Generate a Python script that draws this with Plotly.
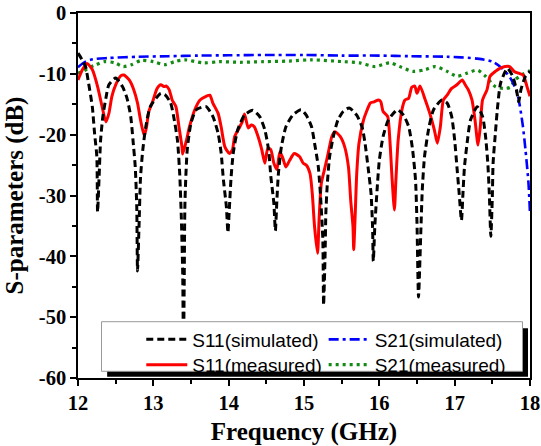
import plotly.graph_objects as go

# ---------------- data ----------------
s11_sim_f = [12.00, 12.05, 12.10, 12.14, 12.19, 12.22, 12.25, 12.26, 12.28, 12.30, 12.33, 12.37, 12.41, 12.50,
             12.59, 12.65, 12.70, 12.73, 12.76, 12.78, 12.79, 12.81, 12.83, 12.86, 12.90, 12.96, 13.10,
             13.16, 13.23, 13.27, 13.32, 13.35, 13.37, 13.39, 13.40, 13.41, 13.42, 13.45, 13.50, 13.57, 13.70,
             13.79, 13.86, 13.90, 13.93, 13.97, 13.99, 14.01, 14.03, 14.06, 14.12, 14.21, 14.32,
             14.41, 14.48, 14.53, 14.56, 14.60, 14.62, 14.64, 14.66, 14.70, 14.76, 14.85, 14.96,
             15.03, 15.10, 15.14, 15.19, 15.22, 15.25, 15.26, 15.28, 15.29, 15.31, 15.34, 15.39, 15.45, 15.52, 15.60,
             15.70, 15.77, 15.81, 15.85, 15.89, 15.91, 15.92, 15.94, 15.97, 16.00, 16.05, 16.12, 16.24,
             16.32, 16.39, 16.44, 16.48, 16.50, 16.52, 16.55, 16.57, 16.60, 16.66, 16.72, 16.83,
             16.90, 16.96, 17.00, 17.03, 17.06, 17.09, 17.11, 17.13, 17.17, 17.21, 17.30,
             17.37, 17.41, 17.44, 17.46, 17.48, 17.50, 17.51, 17.54, 17.57, 17.61, 17.70,
             17.77, 17.82, 17.85, 17.88, 17.94, 18.00]
s11_sim_db = [-6.6, -7.6, -8.8, -11.5, -15.4, -19.8, -23.6, -32.7, -27.0, -20.9, -17.0, -14.0, -11.8, -10.7,
              -12.1, -14.0, -17.0, -20.9, -25.3, -31.9, -42.4, -35.0, -27.0, -22.5, -18.7, -15.4, -13.2,
              -13.5, -14.8, -17.0, -20.9, -26.4, -33.0, -42.8, -56.0, -44.0, -31.0, -22.5, -18.1, -15.9, -15.4,
              -17.0, -19.8, -23.0, -27.4, -31.9, -36.1, -31.9, -27.4, -23.1, -19.2, -16.8, -16.0,
              -17.0, -19.2, -22.5, -26.9, -31.3, -35.8, -30.8, -26.4, -22.0, -18.7, -16.8, -15.9,
              -16.8, -18.7, -21.4, -25.3, -30.2, -37.3, -48.0, -39.6, -32.9, -28.0, -23.6, -20.3, -17.6, -16.2, -15.6,
              -16.8, -18.7, -21.4, -25.3, -29.7, -35.1, -40.8, -35.1, -29.1, -24.2, -20.3, -17.6, -15.9,
              -16.8, -18.7, -22.3, -27.4, -34.6, -46.7, -36.2, -29.1, -23.6, -18.7, -15.9, -14.3,
              -14.8, -17.0, -20.9, -25.3, -29.7, -34.1, -29.7, -25.3, -20.9, -17.6, -15.4,
              -17.0, -20.3, -24.7, -29.7, -36.7, -30.2, -24.7, -19.8, -15.4, -11.5, -9.1,
              -10.4, -12.6, -14.6, -12.6, -10.4, -9.6]

s11_meas_f = [12.00, 12.06, 12.12, 12.19, 12.26, 12.32, 12.37, 12.41, 12.45, 12.50, 12.57, 12.61, 12.68, 12.74,
              12.79, 12.83, 12.88, 12.91, 12.94, 12.99, 13.05, 13.10, 13.14, 13.17, 13.21, 13.25, 13.30, 13.34,
              13.38, 13.39, 13.44, 13.48, 13.55, 13.62, 13.70, 13.75, 13.79, 13.86, 13.90, 13.95, 14.01, 14.05,
              14.08, 14.14, 14.18, 14.21, 14.26, 14.30, 14.34, 14.39, 14.44, 14.48, 14.52, 14.56, 14.60, 14.64,
              14.68, 14.72, 14.76, 14.81, 14.87, 14.94, 14.99, 15.03, 15.08, 15.11, 15.14, 15.18, 15.20, 15.23,
              15.28, 15.32, 15.37, 15.41, 15.48, 15.54, 15.59, 15.62, 15.65, 15.66, 15.68, 15.70, 15.73, 15.79,
              15.83, 15.88, 15.93, 15.99, 16.02, 16.05, 16.11, 16.14, 16.17, 16.20, 16.22, 16.25, 16.30, 16.34,
              16.39, 16.43, 16.47, 16.50, 16.54, 16.61, 16.67, 16.73, 16.77, 16.81, 16.85, 16.90, 16.96, 17.03,
              17.10, 17.14, 17.18, 17.23, 17.27, 17.31, 17.34, 17.37, 17.43, 17.47, 17.54, 17.60, 17.67, 17.73,
              17.79, 17.85, 17.91, 17.96, 18.00]
s11_meas_db = [-11.0, -9.3, -8.3, -9.3, -12.1, -15.4, -17.9, -16.5, -13.7, -11.8, -10.3, -10.2, -11.0, -12.6,
               -14.8, -17.6, -20.2, -18.7, -16.2, -14.6, -12.4, -11.8, -12.1, -12.0, -12.6, -14.3, -15.4, -18.7,
               -22.0, -23.2, -20.9, -18.7, -15.9, -14.3, -13.7, -13.5, -14.8, -16.5, -18.7, -22.0, -23.1, -22.5,
               -20.3, -18.9, -17.9, -16.6, -18.9, -18.4, -18.7, -20.3, -22.5, -24.7, -22.2, -22.5, -24.7, -25.7,
               -22.8, -23.9, -25.3, -24.2, -23.1, -23.6, -24.7, -25.0, -26.4, -29.7, -35.1, -39.5, -34.0, -28.0,
               -25.3, -23.1, -20.3, -19.5, -20.3, -22.0, -25.3, -30.8, -35.1, -38.9, -33.0, -26.4, -21.4, -17.6,
               -16.2, -14.8, -14.6, -14.3, -14.6, -16.2, -17.0, -20.9, -27.4, -32.4, -27.4, -20.9, -15.9, -14.3,
               -14.0, -12.2, -12.0, -13.2, -12.0, -14.3, -16.5, -19.2, -21.4, -18.7, -14.3, -13.5, -12.4, -11.8,
               -11.0, -11.8, -12.6, -14.3, -17.6, -21.7, -18.7, -14.3, -12.6, -10.4, -9.6, -9.1, -8.8, -8.8,
               -9.6, -9.9, -10.2, -12.1, -13.7]

s21_sim_f = [12.00, 12.10, 12.20, 12.40, 12.80, 13.20, 13.60, 14.00, 14.50, 15.00, 15.50, 16.00, 16.40,
             16.90, 17.30, 17.50, 17.63, 17.74, 17.83, 17.90, 17.94, 17.98, 18.00]
s21_sim_db = [-8.9, -8.0, -7.6, -7.4, -7.2, -7.1, -7.0, -6.95, -6.9, -6.9, -7.0, -7.0, -7.1,
              -7.2, -7.5, -8.0, -9.1, -10.7, -13.2, -18.1, -22.5, -28.0, -33.0]

s21_meas_f = [12.00, 12.07, 12.13, 12.24, 12.35, 12.49, 12.60, 12.71, 12.84, 13.00, 13.15, 13.28, 13.42,
              13.66, 13.88, 14.15, 14.46, 14.81, 15.10, 15.52, 15.74, 15.94, 16.14, 16.27, 16.45, 16.61,
              16.74, 16.90, 17.03, 17.16, 17.30, 17.41, 17.54, 17.65, 17.74, 17.80, 17.89, 17.98, 18.00]
s21_meas_db = [-9.9, -9.6, -9.1, -8.5, -8.0, -8.2, -8.8, -8.5, -7.8, -8.0, -8.5, -8.0, -7.7,
               -8.2, -8.0, -8.1, -8.0, -7.9, -7.7, -8.0, -8.2, -8.8, -8.2, -8.8, -9.6, -9.3,
               -8.8, -9.6, -10.4, -9.9, -9.4, -10.4, -12.1, -12.4, -12.2, -11.0, -10.2, -9.6, -9.5]

x_ticks = [12, 13, 14, 15, 16, 17, 18]
x_tick_text = ["12", "13", "14", "15", "16", "17", "18"]
y_ticks = [-60, -50, -40, -30, -20, -10, 0]
y_tick_text = ["-60", "-50", "-40", "-30", "-20", "-10", "0"]

# ---------------- figure ----------------
SERIF = "Liberation Serif, Times New Roman, serif"
SANS = "Liberation Sans, Arial, sans-serif"

fig = go.Figure()
fig.add_trace(go.Scatter(x=s21_meas_f, y=s21_meas_db, name="S21(measured)", mode="lines",
                         line=dict(color="#138a13", width=3.2, dash="3px,4px", shape="spline", smoothing=0.8),
                         legend="legend4"))
fig.add_trace(go.Scatter(x=s21_sim_f, y=s21_sim_db, name="S21(simulated)", mode="lines",
                         line=dict(color="#0000ff", width=2.6, dash="10px,4px,3px,4px", shape="spline", smoothing=0.8),
                         legend="legend2"))
fig.add_trace(go.Scatter(x=s11_meas_f, y=s11_meas_db, name="S11(measured)", mode="lines",
                         line=dict(color="#ff0000", width=3, shape="spline", smoothing=0.6),
                         legend="legend3"))
fig.add_trace(go.Scatter(x=s11_sim_f, y=s11_sim_db, name="S11(simulated)", mode="lines",
                         line=dict(color="#000000", width=3, dash="7px,4px", shape="spline", smoothing=0.6),
                         legend="legend"))

# legend frame with drop shadow
fig.add_shape(type="rect", xref="paper", yref="paper", x0=0.0645, x1=0.9956, y0=0.0036, y1=0.1364,
              fillcolor="black", line=dict(width=0), layer="above")
fig.add_shape(type="rect", xref="paper", yref="paper", x0=0.052, x1=0.9834, y0=0.0184, y1=0.1542,
              fillcolor="white", line=dict(color="#9a9a9a", width=1), layer="above")

leg_common = dict(bgcolor="rgba(0,0,0,0)", borderwidth=0, orientation="v",
                  font=dict(family=SANS, size=19, color="black"),
                  itemwidth=41, xanchor="left", yanchor="top")
col1_x, col2_x = 0.140, 0.5435
row1_y, row2_y = 0.1575, 0.0882
fig.update_layout(
    width=541, height=446,
    margin=dict(l=78, r=11, t=13, b=68, autoexpand=False),
    paper_bgcolor="white", plot_bgcolor="white",
    showlegend=True,
    legend=dict(x=col1_x, y=row1_y, **leg_common),
    legend2=dict(x=col2_x, y=row1_y, **leg_common),
    legend3=dict(x=col1_x, y=row2_y, **leg_common),
    legend4=dict(x=col2_x, y=row2_y, **leg_common),
    xaxis=dict(range=[12, 18], tickvals=x_ticks, ticktext=x_tick_text, automargin=False,
               showline=True, linecolor="black", linewidth=1.5, mirror=True,
               ticks="outside", ticklen=6, tickwidth=1.5, tickcolor="black",
               minor=dict(dtick=0.5, ticks="outside", ticklen=4, tickwidth=1.5, tickcolor="black"),
               showgrid=False, zeroline=False,
               tickfont=dict(family=SERIF, size=20.5, color="black", weight="bold"),
               title=dict(text="Frequency (GHz)", font=dict(family=SERIF, size=25, color="black", weight="bold"),
                          standoff=9)),
    yaxis=dict(range=[-60, 0], tickvals=y_ticks, ticktext=y_tick_text, automargin=False,
               showline=True, linecolor="black", linewidth=1.5, mirror=True,
               ticks="outside", ticklen=6, tickwidth=1.5, tickcolor="black",
               minor=dict(dtick=5, ticks="outside", ticklen=4, tickwidth=1.5, tickcolor="black"),
               showgrid=False, zeroline=False,
               tickfont=dict(family=SERIF, size=20.5, color="black", weight="bold"),
               title=dict(text="S-parameters (dB)", font=dict(family=SERIF, size=25, color="black", weight="bold"),
                          standoff=8)),
)

fig.write_html("out.html", config={"displayModeBar": False},
               post_script="document.body.style.margin='0';")
